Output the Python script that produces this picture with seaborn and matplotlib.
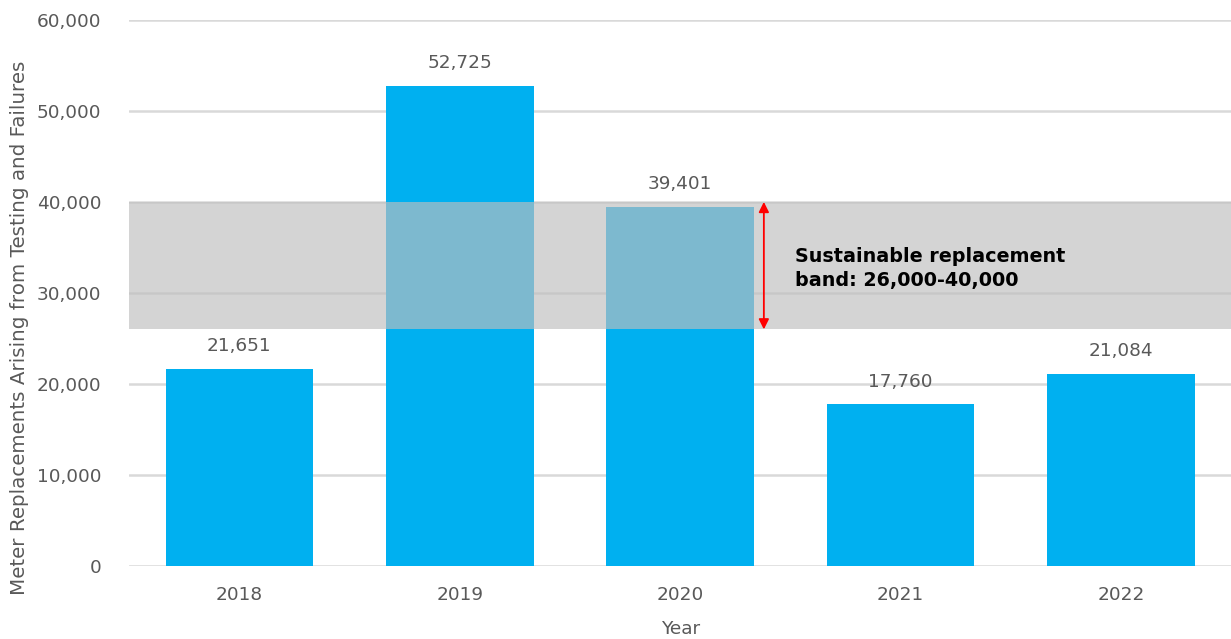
import matplotlib
matplotlib.use("Agg")
import matplotlib.pyplot as plt
from matplotlib.ticker import FuncFormatter
import seaborn as sns
import pandas as pd

years = ["2018", "2019", "2020", "2021", "2022"]
replacements = [21651, 52725, 39401, 17760, 21084]
band_low = 26000
band_high = 40000
band_text = "Sustainable replacement\nband: 26,000-40,000"
y_ticks = [0, 10000, 20000, 30000, 40000, 50000, 60000]

sns.set_theme(style="white")
plt.rcParams["font.family"] = ["DejaVu Sans"]

df = pd.DataFrame({"Year": years, "Replacements": replacements})

fig = plt.figure(figsize=(12.31, 6.39), dpi=100)
ax = fig.add_axes([0.105, 0.114, 0.895, 0.855])

grey_text = "#595959"
fs = 13.3

ax.set_axisbelow(True)
ax.yaxis.grid(True, color="#D9D9D9", linewidth=1.8, zorder=0)
ax.xaxis.grid(False)

sns.barplot(data=df, x="Year", y="Replacements", color="#00B0F0",
            saturation=1, width=0.67, linewidth=0, ax=ax, zorder=2)

# translucent replacement band over the bars
ax.axhspan(band_low, band_high, color=(0.75, 0.75, 0.75), alpha=0.66,
           linewidth=0, zorder=3)

for i, v in enumerate(replacements):
    ax.annotate(f"{v:,}", (i, v), xytext=(0, 10), textcoords="offset points",
                ha="center", va="bottom", fontsize=fs, color=grey_text,
                zorder=5)

ax.annotate("", xy=(2.38, band_high), xytext=(2.38, band_low),
            arrowprops=dict(arrowstyle="<|-|>", color="red", lw=1.3,
                            mutation_scale=15, shrinkA=0, shrinkB=0),
            zorder=5)
ax.text(2.52, (band_low + band_high) / 2 - 300, band_text, ha="left",
        va="center", fontsize=13.8, fontweight="bold", color="black",
        linespacing=1.35, zorder=5)

ax.set_xlim(-0.5, 4.5)
ax.set_ylim(0, 60000)
ax.set_yticks(y_ticks)
ax.yaxis.set_major_formatter(FuncFormatter(lambda v, p: f"{int(v):,}"))
ax.tick_params(axis="y", length=0, pad=20, labelsize=fs, labelcolor=grey_text)
ax.tick_params(axis="x", length=0, pad=14, labelsize=fs, labelcolor=grey_text)

ax.set_xlabel("Year", fontsize=fs, color=grey_text, labelpad=12)
ax.set_ylabel("Meter Replacements Arising from Testing and Failures",
              fontsize=14.3, color=grey_text)
ax.yaxis.set_label_coords(-0.091, 0.436)

sns.despine(ax=ax, left=True, bottom=True)

fig.savefig("out.png", dpi=100)
